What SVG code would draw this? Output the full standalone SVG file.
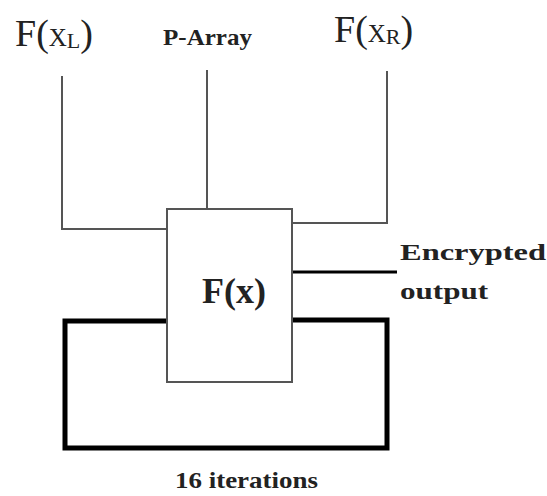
<svg xmlns="http://www.w3.org/2000/svg" width="547" height="496" viewBox="0 0 547 496">
<style>
.thin{fill:none;stroke:#555;stroke-width:2}
.thick{fill:none;stroke:#000;stroke-width:5}
.out{fill:none;stroke:#000;stroke-width:3}
.lbl{font-family:"Liberation Serif","Times New Roman",serif;fill:#222}
.b{font-weight:bold}
</style>
<rect width="547" height="496" fill="#fff"/>
<g id="connectors">
<path class="thin" d="M62,76 V229 H167"/>
<path class="thin" d="M207,70 V209"/>
<path class="thin" d="M387,71 V223 H292"/>
<path class="out" d="M292,272 H397"/>
<path class="thick" d="M167,321 H65 V448 H387 V320 H292"/>
</g>
<g id="fx">
<rect x="167" y="209" width="125" height="173" fill="#fff" stroke="#555" stroke-width="2"/>
<text class="lbl b" x="234" y="303" font-size="36" text-anchor="middle">F(x)</text>
</g>
<g id="fxl">
<text class="lbl" x="15" y="46" font-size="38">F(<tspan font-size="25">X</tspan><tspan font-size="22" dy="2">L</tspan><tspan dy="-2">)</tspan></text>
</g>
<g id="parray">
<text class="lbl b" x="163" y="45" font-size="24" textLength="89" lengthAdjust="spacingAndGlyphs">P-Array</text>
</g>
<g id="fxr">
<text class="lbl" x="334" y="42" font-size="38">F(<tspan font-size="25">X</tspan><tspan font-size="22" dy="2">R</tspan><tspan dy="-2">)</tspan></text>
</g>
<g id="encrypted">
<text class="lbl b" x="400" y="260" font-size="24" textLength="146" lengthAdjust="spacingAndGlyphs">Encrypted</text>
<text class="lbl b" x="400" y="299" font-size="24" textLength="88" lengthAdjust="spacingAndGlyphs">output</text>
</g>
<g id="iterations">
<text class="lbl b" x="175" y="488" font-size="23" textLength="143" lengthAdjust="spacingAndGlyphs">16 iterations</text>
</g>
</svg>
